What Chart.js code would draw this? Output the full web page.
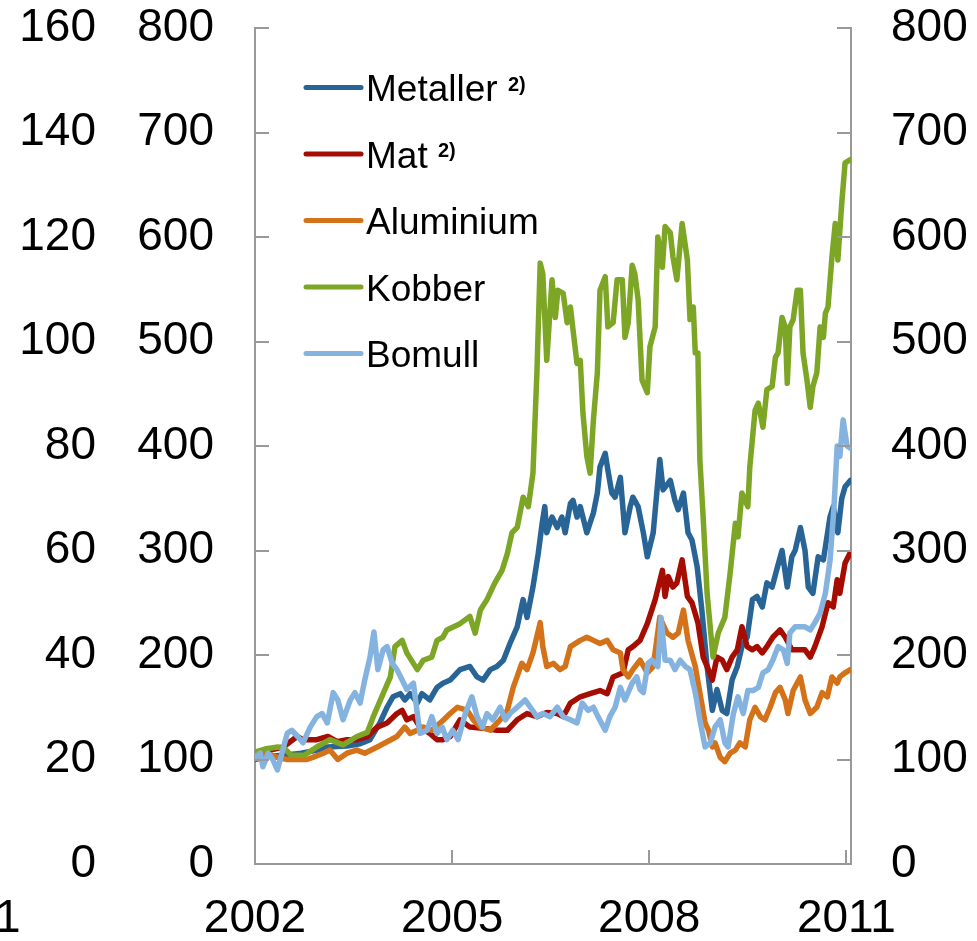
<!DOCTYPE html>
<html>
<head>
<meta charset="utf-8">
<script src="https://cdn.jsdelivr.net/npm/chart.js@4/dist/chart.umd.min.js"></script>
<style>
html, body { margin: 0; padding: 0; background: #ffffff; }
canvas { display: block; }
</style>
</head>
<body>
<canvas id="chart" width="977" height="941"></canvas>
<script>
// ---------------- DATA ----------------
const xTickYears = [2002, 2005, 2008, 2011];
const seriesNames = ['Metaller', 'Mat', 'Aluminium', 'Kobber', 'Bomull'];
const seriesNotes = ['2)', '2)', '', '', ''];

const metallerDates = [2002.00,2002.20,2002.45,2002.70,2002.95,2003.10,2003.40,2003.60,2003.75,2003.90,2004.01,2004.10,2004.21,2004.28,2004.36,2004.47,2004.54,2004.66,2004.77,2004.86,2004.97,2005.12,2005.27,2005.38,2005.47,2005.58,2005.68,2005.78,2005.88,2005.99,2006.08,2006.14,2006.23,2006.31,2006.37,2006.41,2006.44,2006.52,2006.60,2006.67,2006.72,2006.80,2006.84,2006.90,2006.95,2007.05,2007.15,2007.21,2007.25,2007.33,2007.37,2007.43,2007.48,2007.56,2007.63,2007.71,2007.75,2007.83,2007.91,2007.97,2008.06,2008.16,2008.21,2008.32,2008.39,2008.44,2008.52,2008.59,2008.65,2008.73,2008.80,2008.88,2008.96,2009.03,2009.11,2009.18,2009.26,2009.34,2009.41,2009.49,2009.57,2009.64,2009.72,2009.79,2009.87,2009.95,2010.02,2010.10,2010.17,2010.22,2010.30,2010.37,2010.42,2010.49,2010.57,2010.65,2010.75,2010.80,2010.87,2010.93,2010.98,2011.06];
const metallerValues = [100,103,104,106,109,112,113,115,119,135,150,160,163,157,163,154,163,157,169,173,176,186,189,179,176,186,189,195,211,227,253,236,265,297,326,342,317,332,322,332,317,345,348,332,342,317,336,355,380,393,377,355,351,370,317,342,351,342,317,294,317,387,358,367,348,339,355,317,310,284,243,189,147,167,147,144,176,189,208,217,253,256,246,269,265,284,300,265,294,300,322,300,265,259,294,291,332,342,317,350,361,367];

const matDates = [2002.00,2002.23,2002.43,2002.64,2002.73,2002.94,2003.11,2003.25,2003.40,2003.55,2003.71,2003.86,2004.01,2004.16,2004.24,2004.31,2004.41,2004.51,2004.66,2004.77,2004.86,2004.97,2005.12,2005.27,2005.47,2005.68,2005.84,2005.99,2006.14,2006.29,2006.44,2006.60,2006.69,2006.80,2006.95,2007.10,2007.25,2007.36,2007.45,2007.60,2007.68,2007.75,2007.86,2007.97,2008.09,2008.20,2008.24,2008.29,2008.36,2008.42,2008.50,2008.58,2008.65,2008.74,2008.82,2008.90,2008.96,2009.03,2009.11,2009.18,2009.26,2009.34,2009.41,2009.49,2009.57,2009.64,2009.72,2009.79,2009.88,2009.99,2010.07,2010.17,2010.27,2010.37,2010.45,2010.52,2010.63,2010.72,2010.80,2010.86,2010.90,2010.98,2011.06];
const matValues = [103,109,112,122,119,119,122,117,119,119,122,131,135,144,147,138,141,131,125,119,119,122,138,131,130,128,128,138,144,141,145,144,141,154,160,163,166,163,179,183,205,208,214,230,253,281,256,275,265,269,291,256,250,231,198,186,176,198,195,186,198,205,227,208,205,208,202,208,217,224,217,205,205,205,198,208,227,250,246,272,259,288,298];

const aluminiumDates = [2002.00,2002.18,2002.34,2002.49,2002.64,2002.79,2002.88,2003.04,2003.14,2003.26,2003.40,2003.55,2003.67,2003.86,2004.01,2004.16,2004.28,2004.36,2004.47,2004.56,2004.69,2004.82,2004.97,2005.08,2005.23,2005.32,2005.43,2005.58,2005.73,2005.84,2005.93,2006.06,2006.14,2006.23,2006.34,2006.38,2006.44,2006.54,2006.64,2006.72,2006.80,2006.95,2007.05,2007.15,2007.25,2007.36,2007.45,2007.56,2007.60,2007.68,2007.75,2007.86,2007.97,2008.06,2008.16,2008.27,2008.36,2008.44,2008.52,2008.59,2008.70,2008.77,2008.85,2008.90,2008.96,2009.00,2009.08,2009.15,2009.23,2009.31,2009.38,2009.46,2009.53,2009.61,2009.69,2009.76,2009.84,2009.92,2009.99,2010.07,2010.11,2010.19,2010.30,2010.37,2010.45,2010.55,2010.63,2010.71,2010.78,2010.86,2010.90,2010.98,2011.06];
const aluminiumValues = [101,106,102,100,100,100,102,106,109,100,106,109,106,112,117,122,131,125,128,131,128,135,144,150,147,138,131,128,138,147,169,192,186,202,231,208,189,192,186,189,208,214,217,214,211,214,205,202,186,179,186,195,183,189,236,221,217,221,243,214,189,164,135,128,112,116,102,98,106,109,116,112,138,150,141,138,150,164,169,157,144,166,179,157,144,150,164,160,179,173,179,183,186];

const kobberDates = [2002.00,2002.15,2002.35,2002.46,2002.55,2002.75,2002.94,2003.14,2003.34,2003.55,2003.71,2003.80,2003.95,2004.06,2004.13,2004.24,2004.31,2004.41,2004.47,2004.56,2004.69,2004.77,2004.86,2004.92,2005.12,2005.27,2005.35,2005.43,2005.53,2005.65,2005.76,2005.84,2005.91,2005.99,2006.08,2006.16,2006.23,2006.29,2006.34,2006.38,2006.44,2006.52,2006.57,2006.61,2006.69,2006.75,2006.80,2006.84,2006.90,2006.95,2006.99,2007.05,2007.10,2007.15,2007.21,2007.25,2007.33,2007.37,2007.45,2007.51,2007.59,2007.63,2007.68,2007.74,2007.78,2007.83,2007.89,2007.97,2008.01,2008.09,2008.13,2008.20,2008.24,2008.32,2008.36,2008.42,2008.50,2008.58,2008.62,2008.67,2008.70,2008.74,2008.77,2008.82,2008.88,2008.97,2009.05,2009.15,2009.23,2009.31,2009.35,2009.41,2009.50,2009.53,2009.61,2009.66,2009.73,2009.79,2009.87,2009.92,2009.96,2010.02,2010.07,2010.10,2010.14,2010.19,2010.25,2010.30,2010.34,2010.40,2010.45,2010.49,2010.55,2010.60,2010.65,2010.68,2010.72,2010.78,2010.83,2010.87,2010.93,2010.98,2011.06];
const kobberValues = [107,110,112,110,104,104,112,119,114,122,126,141,163,179,208,214,202,192,186,195,198,214,217,224,230,237,221,243,253,269,281,297,317,322,351,342,374,470,575,565,482,559,523,549,546,518,533,511,479,482,432,390,374,425,470,549,562,514,518,559,559,504,518,573,565,540,463,451,495,514,600,571,610,604,581,559,613,578,521,533,489,489,387,332,259,198,221,236,278,326,313,355,342,380,434,441,418,454,457,485,489,523,514,460,514,521,549,549,489,463,437,457,470,514,504,527,533,581,613,578,633,671,674];

const bomullDates = [2002.00,2002.08,2002.12,2002.20,2002.27,2002.34,2002.41,2002.49,2002.56,2002.65,2002.73,2002.84,2002.94,2003.02,2003.10,2003.19,2003.26,2003.34,2003.45,2003.52,2003.60,2003.67,2003.75,2003.81,2003.87,2003.95,2004.01,2004.09,2004.16,2004.24,2004.31,2004.41,2004.47,2004.51,2004.62,2004.69,2004.77,2004.85,2004.92,2005.01,2005.09,2005.20,2005.30,2005.38,2005.46,2005.53,2005.62,2005.73,2005.81,2005.88,2005.99,2006.11,2006.19,2006.29,2006.38,2006.49,2006.60,2006.69,2006.80,2006.90,2006.98,2007.07,2007.15,2007.22,2007.33,2007.40,2007.48,2007.56,2007.63,2007.74,2007.81,2007.86,2007.91,2007.98,2008.04,2008.13,2008.18,2008.24,2008.32,2008.39,2008.47,2008.55,2008.62,2008.70,2008.77,2008.85,2008.93,2009.00,2009.08,2009.15,2009.20,2009.28,2009.35,2009.43,2009.50,2009.58,2009.66,2009.73,2009.81,2009.88,2009.96,2010.04,2010.10,2010.14,2010.22,2010.30,2010.37,2010.45,2010.52,2010.60,2010.68,2010.75,2010.81,2010.86,2010.90,2010.95,2011.01,2011.06];
const bomullValues = [102,106,93,106,100,90,106,125,128,122,116,131,141,144,135,164,157,138,157,164,154,176,198,222,186,205,208,192,186,176,167,173,144,125,128,141,125,131,119,128,119,144,160,141,131,144,138,150,138,144,150,157,150,141,144,141,150,141,138,135,154,147,150,141,128,141,150,169,157,173,179,167,164,192,195,189,236,195,195,186,195,189,186,164,138,112,116,131,138,116,112,144,160,144,166,166,169,183,186,195,208,205,192,221,227,227,227,224,231,240,259,290,340,400,390,425,400,398];

// ---------------- STYLE ----------------
const FONT = '"Liberation Sans", Arial, sans-serif';
const seriesColors = ['#286496', '#A50D02', '#D4721A', '#7EA626', '#85B3E0'];
const axisColor = '#999999';

function pts(dates, values) { return dates.map((d, i) => ({ x: d, y: values[i] })); }
const seriesData = [
  pts(metallerDates, metallerValues),
  pts(matDates, matValues),
  pts(aluminiumDates, aluminiumValues),
  pts(kobberDates, kobberValues),
  pts(bomullDates, bomullValues)
];

const datasets = seriesNames.map((n, i) => ({
  label: n,
  data: seriesData[i],
  borderColor: seriesColors[i],
  backgroundColor: seriesColors[i],
  borderWidth: 5.5,
  pointRadius: 0,
  tension: 0,
  borderJoinStyle: 'round',
  borderCapStyle: 'round',
  fill: false,
  yAxisID: 'y',
  order: seriesNames.length - i
}));

const decor = {
  id: 'decor',
  afterDraw(chart) {
    const { ctx, chartArea: a, scales } = chart;
    ctx.save();
    ctx.strokeStyle = axisColor;
    ctx.lineWidth = 2;
    const TL = 14;
    scales.y.ticks.forEach(t => {
      if (t.value === 0) return;
      const py = Math.round(scales.y.getPixelForValue(t.value));
      ctx.beginPath(); ctx.moveTo(a.left, py); ctx.lineTo(a.left + TL, py); ctx.stroke();
    });
    scales.yR.ticks.forEach(t => {
      if (t.value === 0) return;
      const py = Math.round(scales.yR.getPixelForValue(t.value));
      ctx.beginPath(); ctx.moveTo(a.right, py); ctx.lineTo(a.right - TL, py); ctx.stroke();
    });
    scales.x.ticks.forEach(t => {
      if (t.value === xTickYears[0]) return;
      const px = Math.round(scales.x.getPixelForValue(t.value));
      ctx.beginPath(); ctx.moveTo(px, a.bottom); ctx.lineTo(px, a.bottom - TL); ctx.stroke();
    });

    // legend inside plot
    const lx0 = a.left + 51, lx1 = a.left + 106, tx = a.left + 111;
    const y0 = a.top + 59.5, step = 66.5;
    seriesNames.forEach((n, i) => {
      const cy = y0 + i * step;
      ctx.strokeStyle = seriesColors[i];
      ctx.lineWidth = 5;
      ctx.lineCap = 'round';
      ctx.beginPath(); ctx.moveTo(lx0, cy); ctx.lineTo(lx1, cy); ctx.stroke();
      ctx.fillStyle = '#000';
      ctx.font = '37px ' + FONT;
      ctx.textAlign = 'left';
      ctx.textBaseline = 'alphabetic';
      ctx.fillText(n, tx, cy + 13.5);
      if (seriesNotes[i]) {
        const w = ctx.measureText(n + ' ').width;
        ctx.font = 'bold 20px ' + FONT;
        ctx.fillText(seriesNotes[i], tx + w, cy + 3);
      }
    });

    // cut-off label at the far left
    ctx.fillStyle = '#000';
    ctx.font = '46px ' + FONT;
    ctx.textAlign = 'left';
    ctx.textBaseline = 'middle';
    ctx.fillText('1', -5, a.bottom + 28 + 27.6);
    ctx.restore();
  }
};

const tickFont = { size: 46, family: FONT };
function fixV(w) {
  return s => { s.width = w; s.paddingTop = 0; s.paddingBottom = 0; };
}

new Chart(document.getElementById('chart'), {
  type: 'line',
  data: { datasets },
  plugins: [decor],
  options: {
    responsive: false,
    animation: false,
    layout: { padding: { top: 28, bottom: 0, left: 0, right: 0 } },
    plugins: { legend: { display: false }, tooltip: { enabled: false }, title: { display: false } },
    scales: {
      x: {
        type: 'linear',
        position: 'bottom',
        min: 2002,
        max: 2011.07,
        afterBuildTicks: s => { s.ticks = xTickYears.map(v => ({ value: v })); },
        afterFit: s => { s.height = 77; s.paddingLeft = 0; s.paddingRight = 0; },
        grid: { display: false, drawTicks: false },
        border: { display: true, color: axisColor, width: 2 },
        ticks: { font: tickFont, color: '#000', padding: 28, maxRotation: 0, autoSkip: false, callback: v => String(v) }
      },
      y2: {
        type: 'linear',
        position: 'left',
        weight: 10,
        min: 0, max: 160,
        ticks: { stepSize: 20, font: tickFont, color: '#000', padding: 14 },
        afterFit: fixV(110),
        grid: { display: false, drawTicks: false },
        border: { display: false }
      },
      y: {
        type: 'linear',
        position: 'left',
        weight: 1,
        min: 0, max: 800,
        ticks: { stepSize: 100, font: tickFont, color: '#000', padding: 41 },
        afterFit: fixV(145),
        grid: { display: false, drawTicks: false },
        border: { display: true, color: axisColor, width: 2 }
      },
      yR: {
        type: 'linear',
        position: 'right',
        min: 0, max: 800,
        ticks: { stepSize: 100, font: tickFont, color: '#000', padding: 40 },
        afterFit: fixV(126),
        grid: { display: false, drawTicks: false },
        border: { display: true, color: axisColor, width: 2 }
      }
    }
  }
});
</script>
</body>
</html>
